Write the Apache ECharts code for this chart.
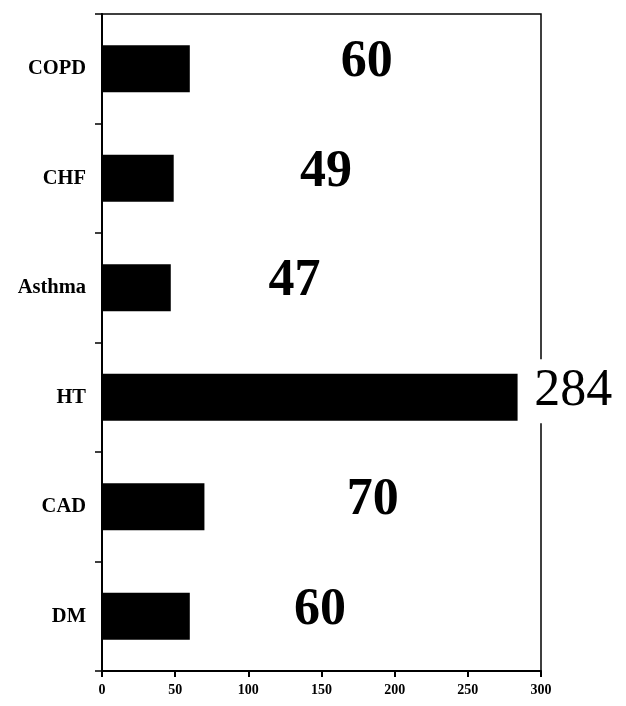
<!DOCTYPE html>
<html>
<head>
<meta charset="utf-8">
<script src="https://cdn.jsdelivr.net/npm/echarts@6/dist/echarts.min.js"></script>
<style>
html,body{margin:0;padding:0;background:#fff;}
#c{width:626px;height:706px;}
</style>
</head>
<body>
<div id="c"></div>
<script>
// Data (bottom to top on the category axis)
const categories = ['DM', 'CAD', 'HT', 'Asthma', 'CHF', 'COPD'];
const values = [60, 70, 284, 47, 49, 60];
// x (in axis units) where each value label is centred
const labelAt = [149, 185, 322, 131.5, 153, 181];
const xTicks = [0, 50, 100, 150, 200, 250, 300];

const serif = '"Liberation Serif", "Times New Roman", serif';
const chart = echarts.init(document.getElementById('c'), null, {renderer: 'canvas'});

const labelData = values.map((v, i) => {
  const item = {value: [labelAt[i], i]};
  if (categories[i] === 'HT') {
    item.label = {fontWeight: 'normal', backgroundColor: '#fff', padding: [6, 3, 6, 3]};
  }
  return item;
});

chart.setOption({
  animation: false,
  backgroundColor: '#fff',
  grid: {
    left: 102, right: 85, top: 14, bottom: 35,
    show: true, borderColor: '#000', borderWidth: 1.5, backgroundColor: 'transparent'
  },
  xAxis: {
    type: 'value',
    min: xTicks[0], max: xTicks[xTicks.length - 1], interval: 50,
    splitLine: {show: false},
    axisLine: {show: true, lineStyle: {color: '#000', width: 2}},
    axisTick: {show: true, length: 6, lineStyle: {color: '#000', width: 2}},
    axisLabel: {color: '#000', fontFamily: serif, fontWeight: 'bold', fontSize: 14, margin: 12}
  },
  yAxis: {
    type: 'category',
    data: categories,
    axisLine: {show: true, lineStyle: {color: '#000', width: 2}},
    axisTick: {show: true, length: 7, lineStyle: {color: '#000', width: 1.5}},
    axisLabel: {color: '#000', fontFamily: serif, fontWeight: 'bold', fontSize: 20.5, margin: 16}
  },
  series: [
    {
      type: 'bar',
      data: values,
      barWidth: 47,
      itemStyle: {color: '#000'},
      z: 2
    },
    {
      type: 'scatter',
      data: labelData,
      symbolSize: 0,
      clip: false,
      silent: true,
      z: 5,
      itemStyle: {opacity: 1, color: '#000'},
      label: {
        show: true,
        position: 'inside',
        offset: [0, -6],
        formatter: p => String(values[p.dataIndex]),
        color: '#000',
        fontFamily: serif,
        fontWeight: 'bold',
        fontSize: 52
      }
    }
  ]
});
</script>
</body>
</html>
